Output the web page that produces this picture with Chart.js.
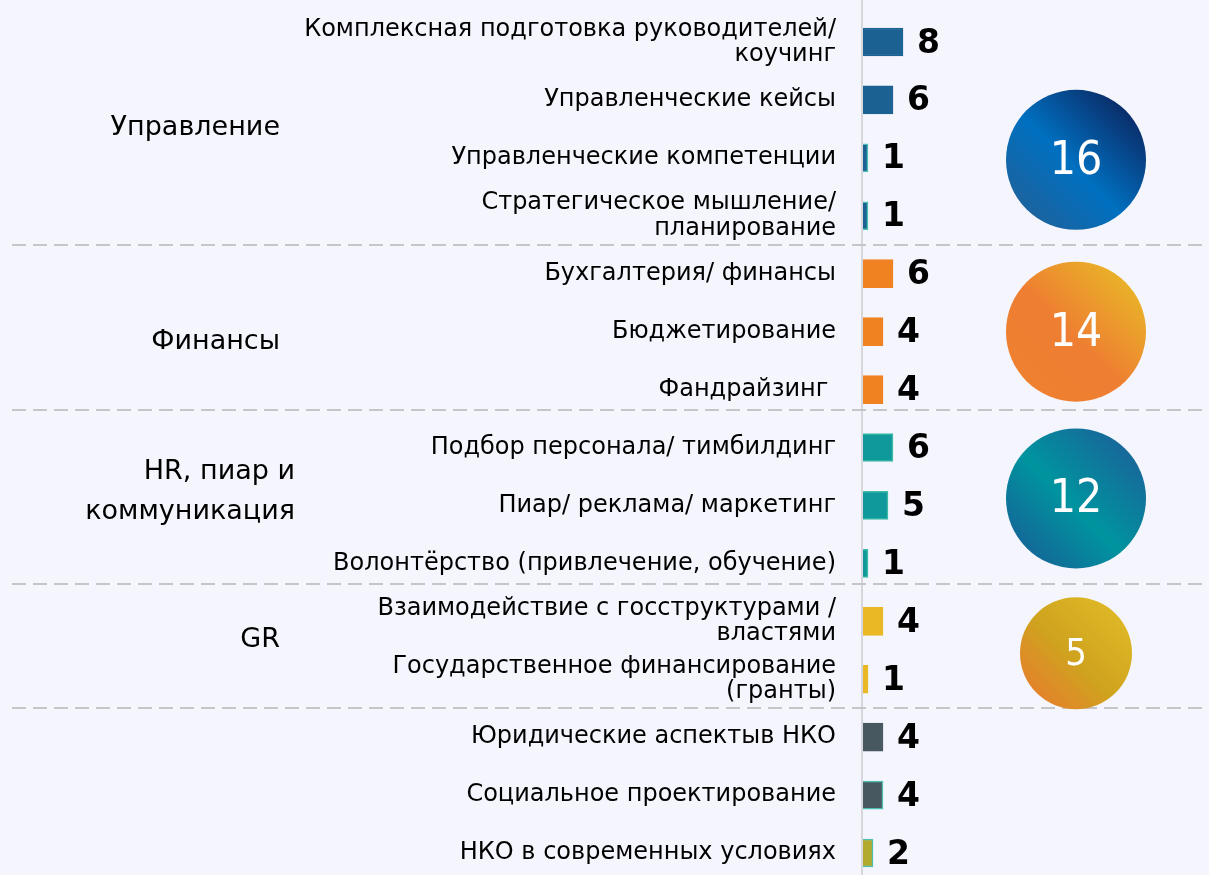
<!DOCTYPE html>
<html lang="ru">
<head>
<meta charset="utf-8">
<title>Темы обучения НКО</title>
<script src="https://cdn.jsdelivr.net/npm/chart.js@4.4.1/dist/chart.umd.min.js"></script>
<style>
  html, body { margin: 0; padding: 0; background: #f5f6fd; overflow: hidden; }
  #wrap { position: relative; width: 1209px; height: 890px; }
</style>
</head>
<body>
<div id="wrap"><canvas id="chart"></canvas></div>
<script>
// data
const topics = [
  ["Комплексная подготовка руководителей/", "коучинг"],
  "Управленческие кейсы",
  "Управленческие компетенции",
  ["Стратегическое мышление/", "планирование"],
  "Бухгалтерия/ финансы",
  "Бюджетирование",
  "Фандрайзинг ",
  "Подбор персонала/ тимбилдинг",
  "Пиар/ реклама/ маркетинг",
  "Волонтёрство (привлечение, обучение)",
  ["Взаимодействие с госструктурами /", "властями"],
  ["Государственное финансирование", "(гранты)"],
  "Юридические аспектыв НКО",
  "Социальное проектирование",
  "НКО в современных условиях",
];
const counts = [8, 6, 1, 1, 6, 4, 4, 6, 5, 1, 4, 1, 4, 4, 2];

const groupNames = [["Управление"], ["Финансы"], ["HR, пиар и", "коммуникация"], ["GR"]];
const groupRows = [[0, 3], [4, 6], [7, 9], [10, 11], [12, 14]];
const groupTotals = [16, 14, 12, 5];

// styling
const FONT = "'DejaVu Sans', sans-serif";
const NARROW = "'DejaVu Sans Condensed', 'DejaVu Sans', sans-serif";
const TEAL_EDGE = "#4cc0b0";

const barFill = [
  "#1b6293", "#1b6293", "#1b6293", "#1b6293",
  "#f08222", "#f08222", "#f08222",
  "#10999b", "#10999b", "#10999b",
  "#e9b824", "#e9b824",
  "#485861", "#485861", "#b2aa2c",
];
const barEdge = [
  "#1b6293", "#1b6293", TEAL_EDGE, TEAL_EDGE,
  "#f08222", "#f08222", "#f08222",
  "#3dbaa6", "#3dbaa6", "#3dbaa6",
  "#e9b824", "#e9b824",
  "#485861", TEAL_EDGE, TEAL_EDGE,
];

const groupStyle = [
  { labelRight: 280, labelShift: -1, circleShift: 31, radius: 70, textSize: 46,
    stops: ["#1a64a0", "#0070c0", "#0a2f6c"] },
  { labelRight: 280, labelShift: 10, circleShift: 0, radius: 70, textSize: 46,
    stops: ["#ee8030", "#ee7e32", "#e9b028"] },
  { labelRight: 295, labelShift: -13, circleShift: -7, radius: 70, textSize: 46,
    stops: ["#126a98", "#00949f", "#16699a"] },
  { labelRight: 280, labelShift: -10, circleShift: 3, radius: 56, textSize: 38,
    stops: ["#e2842a", "#cfa31e", "#ddb726"] },
];
const separatorShift = [0, -9, -8, 0];
const CIRCLE_X = 1076;

const decor = {
  id: "decor",
  beforeDatasetsDraw(chart) {
    const { ctx, scales: { y }, chartArea } = chart;
    ctx.save();
    // vertical axis line over the whole height
    ctx.strokeStyle = "#d6d6dc";
    ctx.lineWidth = 2;
    ctx.beginPath();
    ctx.moveTo(chartArea.left - 1, 0);
    ctx.lineTo(chartArea.left - 1, chart.height);
    ctx.stroke();

    // dashed group separators
    ctx.strokeStyle = "#c6c6c9";
    ctx.setLineDash([14, 7]);
    for (let g = 0; g < groupRows.length - 1; g++) {
      const a = y.getPixelForValue(groupRows[g][1]);
      const b = y.getPixelForValue(groupRows[g + 1][0]);
      const py = Math.round((a + b) / 2 + separatorShift[g]);
      ctx.beginPath();
      ctx.moveTo(12, py);
      ctx.lineTo(chart.width, py);
      ctx.stroke();
    }
    ctx.restore();
  },
  afterDatasetsDraw(chart) {
    const { ctx, scales: { y } } = chart;
    ctx.save();

    // value labels
    ctx.fillStyle = "#000";
    ctx.font = "bold 33px " + FONT;
    ctx.textAlign = "left";
    ctx.textBaseline = "middle";
    chart.getDatasetMeta(0).data.forEach((bar, i) => {
      ctx.fillText(String(counts[i]), bar.x + 14, bar.y + 2);
    });

    groupNames.forEach((lines, g) => {
      const st = groupStyle[g];
      const center = (y.getPixelForValue(groupRows[g][0]) + y.getPixelForValue(groupRows[g][1])) / 2;

      // group name
      ctx.fillStyle = "#000";
      ctx.font = "27px " + FONT;
      ctx.textAlign = "right";
      ctx.textBaseline = "middle";
      const ly = center + st.labelShift;
      lines.forEach((t, k) => {
        ctx.fillText(t, st.labelRight, ly + (k - (lines.length - 1) / 2) * 40);
      });

      // total circle
      const cy = center + st.circleShift;
      const r = st.radius;
      const grad = ctx.createLinearGradient(CIRCLE_X - r * 0.7, cy + r * 0.7, CIRCLE_X + r * 0.7, cy - r * 0.7);
      grad.addColorStop(0, st.stops[0]);
      grad.addColorStop(0.45, st.stops[1]);
      grad.addColorStop(1, st.stops[2]);
      ctx.fillStyle = grad;
      ctx.beginPath();
      ctx.arc(CIRCLE_X, cy, r, 0, Math.PI * 2);
      ctx.fill();

      ctx.fillStyle = "#ffffff";
      ctx.font = st.textSize + "px " + NARROW;
      ctx.textAlign = "center";
      ctx.fillText(String(groupTotals[g]), CIRCLE_X, cy + 2);
    });
    ctx.restore();
  },
};

new Chart(document.getElementById("chart"), {
  type: "bar",
  data: {
    labels: topics,
    datasets: [{
      data: counts,
      backgroundColor: barFill,
      borderColor: barEdge,
      borderWidth: 1.5,
      borderSkipped: "start",
      barThickness: 28,
    }],
  },
  options: {
    indexAxis: "y",
    responsive: true,
    maintainAspectRatio: false,
    animation: false,
    layout: { padding: { top: 13, bottom: 8, left: 0, right: 146 } },
    plugins: {
      legend: { display: false },
      tooltip: { enabled: false },
    },
    scales: {
      x: { display: false, min: 0, max: 40 },
      y: {
        afterFit(scale) {
          scale.width = 863;
          scale.paddingTop = 0;
          scale.paddingBottom = 0;
        },
        grid: { display: false, drawTicks: false },
        border: { display: false },
        ticks: {
          padding: 27,
          color: "#000",
          autoSkip: false,
          font: { family: FONT, size: 24, lineHeight: 1.05 },
        },
      },
    },
  },
  plugins: [decor],
});
</script>
</body>
</html>
